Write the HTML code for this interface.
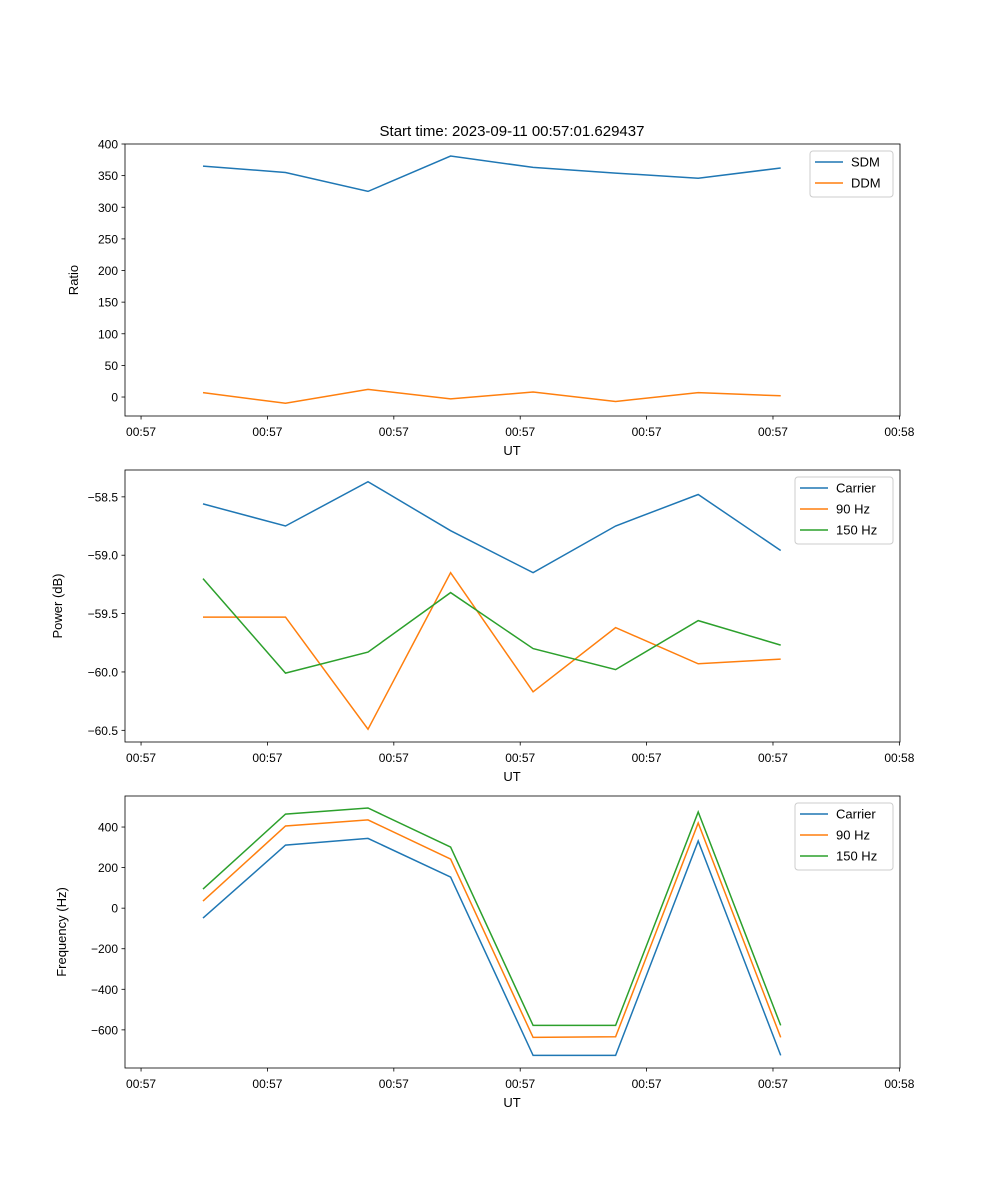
<!DOCTYPE html>
<html><head><meta charset="utf-8"><style>
html,body{margin:0;padding:0;background:#fff;}
svg{display:block;font-family:"Liberation Sans","DejaVu Sans",sans-serif;}
</style></head><body>
<svg id="fig" width="1000" height="1200" viewBox="0 0 1000 1200">
<text x="512" y="136" font-size="15" text-anchor="middle">Start time: 2023-09-11 00:57:01.629437</text>
</svg>
<script>
const xTickSecs=[0,10,20,30,40,50,60];
const xTickLabels=["00:57","00:57","00:57","00:57","00:57","00:57","00:58"];
const pointSecs=[4.9,11.43,17.96,24.49,31.02,37.55,44.08,50.61];
const ratioTicks=[0,50,100,150,200,250,300,350,400];
const sdm=[365,355,325,381,363,354,346,362];
const ddm=[7,-10,12,-3,8,-7,7,2];
const powerTicks=[-60.5,-60.0,-59.5,-59.0,-58.5];
const powerTickLabels=["\u221260.5","\u221260.0","\u221259.5","\u221259.0","\u221258.5"];
const powerCarrier=[-58.56,-58.75,-58.37,-58.79,-59.15,-58.75,-58.48,-58.96];
const power90=[-59.53,-59.53,-60.49,-59.15,-60.17,-59.62,-59.93,-59.89];
const power150=[-59.2,-60.01,-59.83,-59.32,-59.8,-59.98,-59.56,-59.77];
const freqTicks=[-600,-400,-200,0,200,400];
const freqTickLabels=["\u2212600","\u2212400","\u2212200","0","200","400"];
const freqCarrier=[-49,311,344,153,-726,-726,331,-726];
const freq90=[35,405,435,242,-637,-634,420,-637];
const freq150=[94,464,494,301,-578,-578,474,-578];

const NS="http://www.w3.org/2000/svg";
const svg=document.getElementById('fig');
const X0=125,X1=900,XMIN=-1.27,XMAX=60.05;
const xs=v=>X0+(v-XMIN)/(XMAX-XMIN)*(X1-X0);
function mk(tag,attrs,parent){const e=document.createElementNS(NS,tag);for(const k in attrs)e.setAttribute(k,attrs[k]);(parent||svg).appendChild(e);return e;}
const C=["#1f77b4","#ff7f0e","#2ca02c"];

function panel(name,top,bot,ymin,ymax,yt,ytl,ylabel,ylabX,series,names,leg){
  const g=mk('g',{});
  
  
  const ys=v=>bot-(v-ymin)/(ymax-ymin)*(bot-top);
  series.forEach((s,i)=>{
    const p=mk('polyline',{points:s.map((v,j)=>xs(pointSecs[j]).toFixed(1)+','+ys(v).toFixed(1)).join(' '),fill:'none',stroke:C[i],'stroke-width':1.5},g);
    
    
  });
  const fr=mk('rect',{x:X0,y:top,width:X1-X0,height:bot-top,fill:'none',stroke:'#000','stroke-width':0.8},g);
  
  
  xTickSecs.forEach((t,i)=>{
    const x=xs(t);
    mk('line',{x1:x,x2:x,y1:bot,y2:bot+3.5,stroke:'#000','stroke-width':0.8},g);
    const tx=mk('text',{x:x,y:bot+20,'font-size':12,'text-anchor':'middle'},g);
    tx.textContent=xTickLabels[i];
    
    
  });
  yt.forEach((t,i)=>{
    const y=ys(t);
    mk('line',{x1:X0-3.5,x2:X0,y1:y,y2:y,stroke:'#000','stroke-width':0.8},g);
    const tx=mk('text',{x:X0-7,y:y+4.5,'font-size':12,'text-anchor':'end'},g);
    tx.textContent=ytl[i];
    
    
  });
  const xl=mk('text',{x:512,y:bot+39,'font-size':13,'text-anchor':'middle'},g);
  xl.textContent='UT';
  
  
  const cy=(top+bot)/2;
  const yl=mk('text',{x:ylabX,y:cy,'font-size':13,'text-anchor':'middle',transform:'rotate(-90 '+ylabX+' '+cy+')'},g);
  yl.textContent=ylabel;
  
  
  const lg=mk('g',{},g);
  
  
  mk('rect',{x:leg[0],y:top+7,width:X1-7-leg[0],height:names.length*21+4,rx:3,fill:'#fff','fill-opacity':0.8,stroke:'#ccc','stroke-width':1},lg);
  names.forEach((n,i)=>{
    const y=top+18+i*21;
    mk('line',{x1:leg[0]+5,x2:leg[0]+33,y1:y,y2:y,stroke:C[i],'stroke-width':1.5},lg);
    const t=mk('text',{x:leg[0]+41,y:y+4.5,'font-size':13},lg);
    t.textContent=n;
    
    
  });
}
panel('ratio',144,416,-30,400,ratioTicks,ratioTicks.map(String),'Ratio',78,[sdm,ddm],['SDM','DDM'],[810]);
panel('power',470,742,-60.6,-58.27,powerTicks,powerTickLabels,'Power (dB)',62,[powerCarrier,power90,power150],['Carrier','90 Hz','150 Hz'],[795]);
panel('frequency',796,1068,-788,553,freqTicks,freqTickLabels,'Frequency (Hz)',66,[freqCarrier,freq90,freq150],['Carrier','90 Hz','150 Hz'],[795]);
</script>
</body></html>
